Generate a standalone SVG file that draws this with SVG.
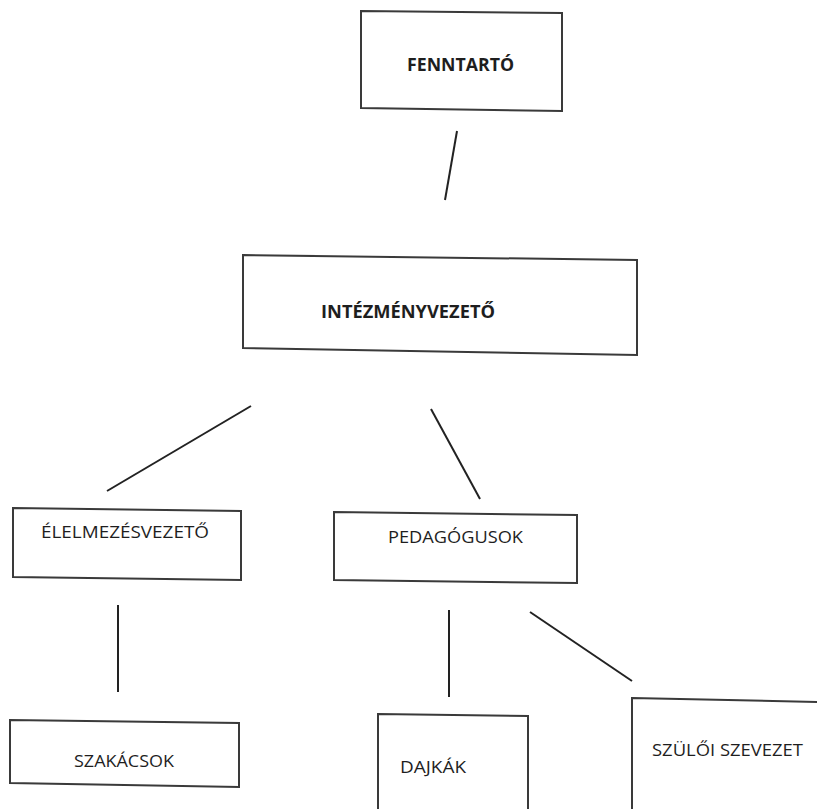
<svg xmlns="http://www.w3.org/2000/svg" width="817" height="809" viewBox="0 0 817 809">
<style>
.box{fill:#ffffff;stroke:#3a3a3a;stroke-width:2;stroke-linejoin:miter}
.lbl{font-family:"Open Sans","Liberation Sans",sans-serif;font-size:16px;fill:#1e1e1e}
.bold{font-weight:bold;font-size:18px}
.con{stroke:#222222;stroke-width:2;fill:none;stroke-linecap:butt}
</style>
<rect x="0" y="0" width="817" height="809" fill="#ffffff"/>
<g id="connectors">
<line class="con" x1="457" y1="131" x2="445" y2="200"/>
<line class="con" x1="251" y1="406" x2="107" y2="491"/>
<line class="con" x1="431" y1="409" x2="480" y2="499"/>
<line class="con" x1="118" y1="605" x2="118" y2="692"/>
<line class="con" x1="449" y1="610" x2="449" y2="697"/>
<line class="con" x1="530" y1="612" x2="632" y2="681"/>
</g>
<g id="fenntarto">
<polygon class="box" points="361,11 562,13 562,111 361,108"/>
<text class="lbl bold" x="407" y="71" textLength="107" lengthAdjust="spacingAndGlyphs">FENNTARTÓ</text>
</g>
<g id="intezmenyvezeto">
<polygon class="box" points="243,255 637,260 637,355 243,348"/>
<text class="lbl bold" x="321" y="318" textLength="174" lengthAdjust="spacingAndGlyphs">INTÉZMÉNYVEZETŐ</text>
</g>
<g id="elelmezesvezeto">
<polygon class="box" points="13,508 241,511 241,580 13,577"/>
<text class="lbl" x="41" y="538" textLength="168" lengthAdjust="spacingAndGlyphs">ÉLELMEZÉSVEZETŐ</text>
</g>
<g id="pedagogusok">
<polygon class="box" points="334,512 577,515 577,583 334,580"/>
<text class="lbl" x="388" y="543" textLength="135" lengthAdjust="spacingAndGlyphs">PEDAGÓGUSOK</text>
</g>
<g id="szakacsok">
<polygon class="box" points="10,720 239,723 239,787 10,783"/>
<text class="lbl" x="74" y="767" textLength="100" lengthAdjust="spacingAndGlyphs">SZAKÁCSOK</text>
</g>
<g id="dajkak">
<polygon class="box" points="378,714 528,716 528,812 378,812"/>
<text class="lbl" x="400" y="773" textLength="66" lengthAdjust="spacingAndGlyphs">DAJKÁK</text>
</g>
<g id="szuloi-szervezet">
<polygon class="box" points="632,698 820,702 820,812 632,812"/>
<text class="lbl" x="652" y="756" textLength="151" lengthAdjust="spacingAndGlyphs">SZÜLŐI SZEVEZET</text>
</g>
</svg>
